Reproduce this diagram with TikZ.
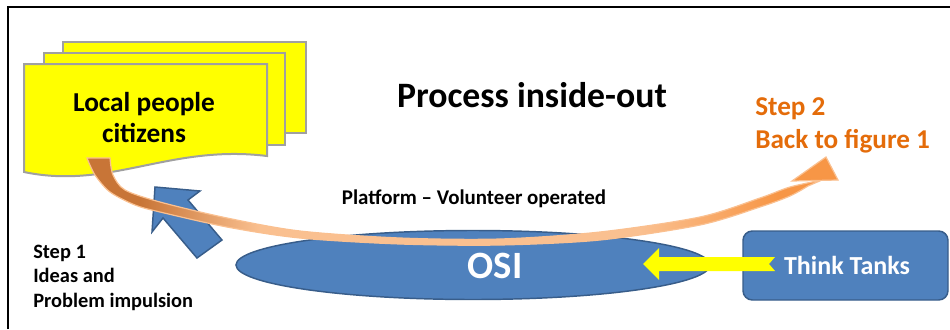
\documentclass[tikz,border=0pt]{standalone}
\usepackage{fontspec}
\setmainfont{Carlito}
\usetikzlibrary{
  arrows.meta,
  calc,
  positioning,
  shapes,
}
\definecolor{docyellow}{RGB}{255, 255, 0}
\definecolor{docgray}{RGB}{160, 160, 160}
\definecolor{osiblue}{RGB}{79, 129, 189}
\definecolor{osiborder}{RGB}{56, 93, 138}
\definecolor{bandbrown}{RGB}{200, 117, 55}
\definecolor{bandpeach}{RGB}{250, 192, 144}
\definecolor{bandorange}{RGB}{247, 150, 70}
\definecolor{steporange}{RGB}{228, 108, 10}
\pgfdeclarehorizontalshading{bandshade}{100bp}{
  color(0bp)=(bandbrown); color(28.6bp)=(bandbrown);
  color(36.8bp)=(bandpeach); color(62.6bp)=(bandpeach);
  color(72bp)=(bandorange); color(100bp)=(bandorange)}
\tikzstyle{doc} = [
  fill=docyellow,
  draw=docgray,
  line width=1.5pt,
]
\tikzstyle{blueshape} = [
  fill=osiblue,
  draw=osiborder,
  line width=1.1pt,
]
\tikzstyle{boldtext} = [
  inner sep=0pt,
  font=\bfseries,
]

\begin{document}
\begin{tikzpicture}[x=0.75pt, y=-0.75pt]
      \tikzstyle{every node}=[inner sep=0pt]
      \useasboundingbox (0,0) rectangle (950,329);
      \draw[line width=1.5pt] (8,329) -- (8,7) -- (950,7);
      \draw[doc] (63,42) rectangle (306,133);
      \draw[doc] (44,53) rectangle (285,145);
      \draw[doc] (24,64) -- (267,64) -- (267,156)
        .. controls (170,144) and (110,190) .. (24,172) -- cycle;
      \node[boldtext, align=center, font=\bfseries\fontsize{20.5}{23.25}\selectfont]
        (people) at (144,118) {Local people\\citizens};
      \draw[blueshape] (155,187) -- (200,191) -- (188,200) -- (222,240)
        -- (197,258) -- (163,218) -- (152,232) -- cycle;
      \node[ellipse, blueshape, minimum width=355.5pt, minimum height=51.75pt]
        (osi) at (473,265) {};
      \node[rectangle, rounded corners=7pt, blueshape, minimum width=153.75pt,
        minimum height=51.75pt] (tanks) at (845.5,265.5) {};
      \fill[docyellow] (643,264) -- (659,248) -- (659,257) -- (775,257)
        -- (769,264) -- (775,271) -- (659,271) -- (659,280) -- cycle;
      \shadedraw[shading=bandshade, draw=bandpeach, line width=0.9pt]
        plot[smooth] coordinates {(87,158) (95,175) (110,192) (135,205) (160,212)
          (227,227) (300,238) (400,244) (500,245) (600,240) (700,225) (760,207)
          (790,196) (808,186)}
        -- plot[smooth] coordinates {(822,180) (790,187) (760,198) (700,217)
          (600,232) (500,239) (400,238) (300,231) (227,218) (160,202) (125,190)
          (113,175) (110,158)} -- cycle;
      \draw[fill=bandorange, draw=bandpeach, line width=0.9pt]
        (792,181) -- (826,157) -- (838,180) -- cycle;
      \node[boldtext, anchor=base, font=\bfseries\fontsize{26.8}{30}\selectfont]
        (title) at (532,107) {Process inside-out};
      \node[boldtext, anchor=west, align=left, text=steporange,
        font=\bfseries\fontsize{20.4}{24.75}\selectfont]
        (step2) at (755,125.5) {Step 2\\Back to figure 1};
      \node[boldtext, anchor=base, font=\bfseries\fontsize{15.7}{18}\selectfont]
        (platform) at (474,204) {Platform -- Volunteer operated};
      \node[boldtext, anchor=west, align=left, font=\bfseries\fontsize{15.3}{18.4}\selectfont]
        (step1) at (33,277.6) {Step 1\\Ideas and\\Problem impulsion};
      \node[boldtext, anchor=base, text=white, font=\bfseries\fontsize{29}{32}\selectfont]
        (osilabel) at (495,278) {OSI};
      \node[boldtext, anchor=base, text=white, font=\bfseries\fontsize{19.5}{21}\selectfont]
        (tankslabel) at (847,274) {Think Tanks};
    \end{tikzpicture}
\end{document}
